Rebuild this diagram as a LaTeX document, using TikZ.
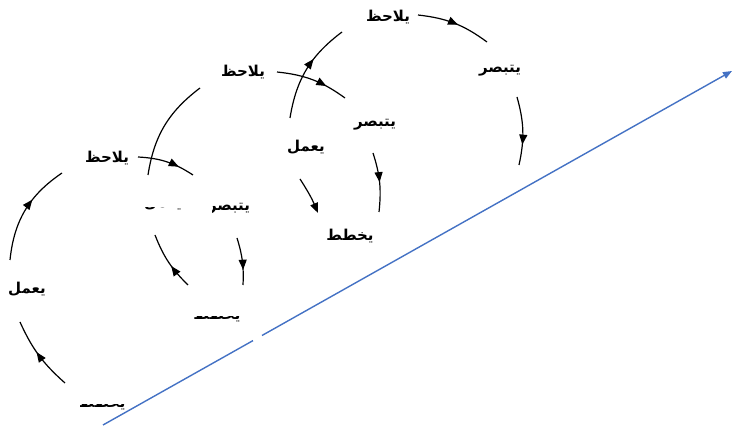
\documentclass[tikz,border=0pt]{standalone}
\usepackage{fontspec}
\newfontfamily\arabicfont[Script=Arabic]{DejaVu Sans}
\TeXXeTstate=1
\usetikzlibrary{arrows.meta,decorations.markings}
\definecolor{trendblue}{RGB}{68,114,196}
\begin{document}
\begin{tikzpicture}[x=1pt,y=1pt,
  lbl/.style={font=\arabicfont\bfseries\fontsize{15}{17}\selectfont,inner sep=0pt},
  loopline/.style={line width=1.2pt,black},
  midarrow/.style={postaction=decorate,decoration={markings,mark=at position #1 with {\arrow{Triangle[length=10pt,width=8pt]}}}},
  trend/.style={line width=1.4pt,draw=trendblue}]
\useasboundingbox (0,0) rectangle (734,-427);
% labels
\node[lbl] (obsA) at (107,-158) {\beginR يلاحظ\endR};
\node[lbl] (obsB) at (243,-72) {\beginR يلاحظ\endR};
\node[lbl] (obsC) at (388,-17) {\beginR يلاحظ\endR};
\node[lbl] (refB) at (375,-125) {\beginR يتبصر\endR};
\node[lbl] (refC) at (500,-71) {\beginR يتبصر\endR};
\node[lbl] (actA) at (27,-289) {\beginR يعمل\endR};
\node[lbl] (actC) at (306,-147) {\beginR يعمل\endR};
\node[lbl] (plnB) at (350,-236) {\beginR يخطط\endR};
\begin{scope}
  \clip (212,-195) rectangle (260,-225);
  \node[lbl] (refA) at (229,-209) {\beginR يتبصر\endR};
\end{scope}
\begin{scope}
  \clip (140,-208) rectangle (190,-225);
  \node[lbl] (actB) at (163,-203) {\beginR يعمل\endR};
\end{scope}
\begin{scope}
  \clip (190,-317) rectangle (245,-335);
  \node[lbl] (plnA) at (217,-315) {\beginR يخطط\endR};
\end{scope}
\begin{scope}
  \clip (80,-405) rectangle (125,-420);
  \node[lbl] (pln0) at (102,-403) {\beginR يخطط\endR};
\end{scope}
% arc end points
\coordinate (a1s) at (10,-260);  \coordinate (a1e) at (62,-173);
\coordinate (a2s) at (65,-383);  \coordinate (a2e) at (20,-322);
\coordinate (a3s) at (138,-157); \coordinate (a3e) at (193,-175);
\coordinate (a4s) at (200,-88);  \coordinate (a4e) at (148,-175);
\coordinate (a5s) at (237,-238); \coordinate (a5e) at (243,-285);
\coordinate (a6s) at (188,-285); \coordinate (a6e) at (155,-235);
\coordinate (a7s) at (277,-72);  \coordinate (a7e) at (345,-98);
\coordinate (a8s) at (290,-118); \coordinate (a8e) at (342,-32);
\coordinate (a9s) at (373,-153); \coordinate (a9e) at (379,-212);
\coordinate (a10s) at (300,-179); \coordinate (a10e) at (318,-213);
\coordinate (a11s) at (418,-15); \coordinate (a11e) at (487,-42);
\coordinate (a12s) at (517,-97); \coordinate (a12e) at (519,-165);
% arcs
\draw[loopline,midarrow=0.62] (a1s) to[bend left=25] (a1e);
\draw[loopline,midarrow=0.55] (a2s) to[bend left=12] (a2e);
\draw[loopline,midarrow=0.72] (a3s) to[bend left=15] (a3e);
\draw[loopline] (a4s) to[bend right=22] (a4e);
\draw[loopline,midarrow=0.68] (a5s) to[bend left=10] (a5e);
\draw[loopline,midarrow=0.42] (a6s) to[bend left=12] (a6e);
\draw[loopline,midarrow=0.7] (a7s) to[bend left=15] (a7e);
\draw[loopline,midarrow=0.62] (a8s) to[bend left=22] (a8e);
\draw[loopline,midarrow=0.5] (a9s) to[bend left=12] (a9e);
\draw[loopline,-{Triangle[length=10pt,width=8pt]}] (a10s) to[bend left=5] (a10e);
\draw[loopline,midarrow=0.55] (a11s) to[bend left=15] (a11e);
\draw[loopline,midarrow=0.7] (a12s) to[bend left=14] (a12e);
% trend arrow
\coordinate (tS) at (103,-425);
\coordinate (tG1) at (253,-340.6);
\coordinate (tG2) at (262,-335.5);
\coordinate (tE) at (732,-71);
\draw[trend] (tS) -- (tG1);
\draw[trend,-{Triangle[length=9pt,width=7pt]}] (tG2) -- (tE);
\end{tikzpicture}
\end{document}
